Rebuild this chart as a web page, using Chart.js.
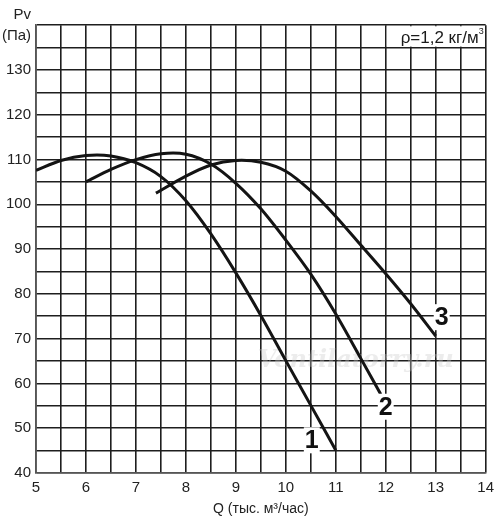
<!DOCTYPE html>
<html>
<head>
<meta charset="utf-8">
<script src="https://cdn.jsdelivr.net/npm/chart.js@4"></script>
<style>
  html, body { margin: 0; padding: 0; background: #fff; }
  #wrap { width: 500px; height: 518px; }
</style>
</head>
<body>
<div id="wrap"><canvas id="myChart" width="500" height="518"></canvas></div>
<script>
// Curve 1
var q1  = [5.0, 5.5, 6.0, 6.5, 7.0, 7.5, 8.0, 8.5, 9.0, 9.5, 10.0, 10.5, 11.0];
var pv1 = [107.6, 109.8, 110.9, 110.8, 109.3, 106.2, 100.8, 93.4, 84.7, 75.2, 65.1, 55.1, 45.1];

// Curve 2
var q2  = [6.0, 6.5, 7.0, 7.5, 8.0, 8.5, 9.0, 9.5, 10.0, 10.5, 11.0, 11.5, 11.9];
var pv2 = [105.0, 107.8, 110.0, 111.3, 111.2, 109.0, 104.7, 99.0, 92.0, 84.4, 75.5, 65.6, 57.6];

// Curve 3
var q3  = [7.4, 8.0, 8.5, 9.0, 9.5, 10.0, 10.5, 11.0, 11.5, 12.0, 12.5, 13.0];
var pv3 = [102.5, 106.3, 108.8, 109.8, 109.4, 107.4, 103.0, 97.3, 90.9, 84.5, 77.8, 70.6];

// Curve numbers and where they sit
var curveNames = ['1', '2', '3'];
var nameQ  = [10.52, 12.0, 13.12];
var namePv = [47.3, 54.8, 74.8];

// Axis ticks
var xTickLabels = [5, 6, 7, 8, 9, 10, 11, 12, 13, 14];
var yTickLabels = [40, 50, 60, 70, 80, 90, 100, 110, 120, 130];

var yTitle = ['Pv', '(Па)'];
var xTitle = 'Q (тыс. м³/час)';
var densityNote = 'ρ=1,2 кг/м';

function toPoints(xs, ys) {
    return xs.map(function(x, i) { return {x: x, y: ys[i]}; });
}

function curve(xs, ys) {
    return {
        data: toPoints(xs, ys),
        borderColor: '#141414',
        borderWidth: 3,
        pointRadius: 0,
        fill: false,
        tension: 0.3
    };
}

// Draws the density box, curve numbers and the watermark
var extras = {
    id: 'extras',
    beforeDatasetsDraw: function(chart) {
        var c = chart.ctx, xs = chart.scales.x, ys = chart.scales.y;
        c.save();
        // watermark
        c.font = 'italic bold 24px "DejaVu Serif", serif';
        c.fillStyle = 'rgba(200,200,200,0.35)';
        c.textAlign = 'center';
        c.textBaseline = 'middle';
        c.fillText('Ventilatorry.ru', xs.getPixelForValue(11.4), ys.getPixelForValue(65));
        // density note box
        var l = xs.getPixelForValue(12) + 1, r = xs.getPixelForValue(14) - 1;
        var t = ys.getPixelForValue(140) + 1, b = ys.getPixelForValue(135) - 1;
        c.fillStyle = '#fff';
        c.fillRect(l, t, r - l, b - t);
        c.fillStyle = '#1a1a1a';
        c.font = '17px "Liberation Sans", Arial, sans-serif';
        c.textAlign = 'right';
        c.textBaseline = 'middle';
        c.fillText(densityNote, r - 6, (t + b) / 2 + 2);
        c.font = '9px "Liberation Sans", Arial, sans-serif';
        c.textAlign = 'left';
        c.fillText('3', r - 6, (t + b) / 2 - 5);
        c.restore();
    },
    afterDatasetsDraw: function(chart) {
        var c = chart.ctx, xs = chart.scales.x, ys = chart.scales.y;
        c.save();
        c.font = 'bold 25px "Liberation Sans Narrow", "Liberation Sans", Arial, sans-serif';
        c.textAlign = 'center';
        c.textBaseline = 'middle';
        curveNames.forEach(function(name, i) {
            var px = xs.getPixelForValue(nameQ[i]);
            var py = ys.getPixelForValue(namePv[i]);
            var w = c.measureText(name).width + 2;
            c.fillStyle = '#fff';
            c.fillRect(px - w / 2, py - 13, w, 26);
            c.fillStyle = '#111';
            c.fillText(name, px, py + 1);
        });
        c.restore();
    }
};

var ctx = document.getElementById('myChart').getContext('2d');

var myChart = new Chart(ctx, {
    type: 'line',
    data: {
        datasets: [curve(q1, pv1), curve(q2, pv2), curve(q3, pv3)]
    },
    options: {
        responsive: false,
        animation: false,
        events: [],
        layout: {
            padding: {top: 23, right: 12, left: 0, bottom: 0}
        },
        plugins: {
            legend: {display: false},
            tooltip: {enabled: false}
        },
        scales: {
            x: {
                type: 'linear',
                min: 5,
                max: 14,
                afterFit: function(scale) { scale.height = 45; },
                grid: {color: '#1e1e1e', lineWidth: 1.6, drawTicks: false},
                border: {color: '#555', width: 1.6},
                ticks: {
                    stepSize: 0.5,
                    autoSkip: false,
                    maxRotation: 0,
                    padding: 6,
                    color: '#222',
                    font: {size: 15, family: '"Liberation Sans", Arial, sans-serif'},
                    callback: function(v) {
                        return xTickLabels.indexOf(v) >= 0 ? String(v) : '';
                    }
                },
                title: {
                    display: true,
                    text: xTitle,
                    color: '#222',
                    padding: {top: 0, bottom: 0},
                    font: {size: 14, family: '"Liberation Sans", Arial, sans-serif'}
                }
            },
            y: {
                type: 'linear',
                min: 40,
                max: 140,
                afterFit: function(scale) { scale.width = 36; },
                grid: {color: '#1e1e1e', lineWidth: 1.6, drawTicks: false},
                border: {color: '#555', width: 1.6},
                ticks: {
                    stepSize: 5,
                    autoSkip: false,
                    padding: 5,
                    color: '#222',
                    font: {size: 15, lineHeight: 1.35, family: '"Liberation Sans", Arial, sans-serif'},
                    callback: function(v) {
                        if (v === 140) return yTitle;
                        return yTickLabels.indexOf(v) >= 0 ? String(v) : '';
                    }
                }
            }
        }
    },
    plugins: [extras]
});
</script>
</body>
</html>
